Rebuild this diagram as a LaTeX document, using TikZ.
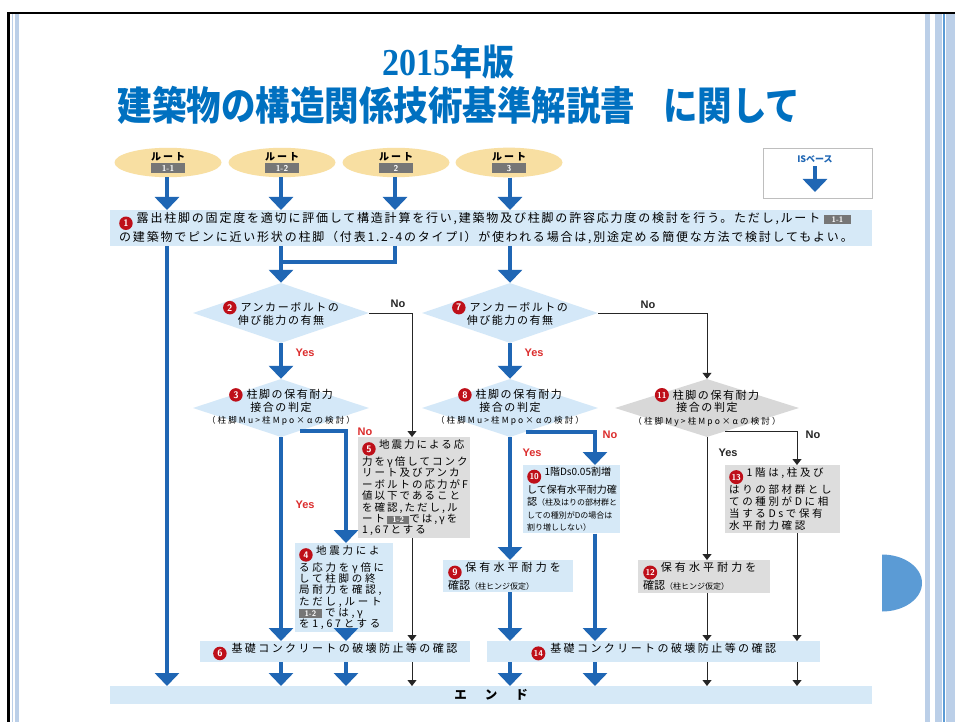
\documentclass[tikz,border=0pt]{standalone}
\usepackage{fontspec}
\usepackage{graphicx}
\usetikzlibrary{arrows.meta,shapes.geometric,calc}
\newfontfamily\jp{Noto Sans CJK JP}
\newfontfamily\labfont{Liberation Sans}
\newfontfamily\serfont{Liberation Serif}
\definecolor{fblue}{RGB}{31,102,180}
\definecolor{lbox}{RGB}{214,233,247}
\definecolor{ldia}{RGB}{212,232,248}
\definecolor{gbox}{RGB}{221,221,221}
\definecolor{gdia}{RGB}{216,216,216}
\definecolor{routey}{RGB}{248,223,162}
\definecolor{tagray}{RGB}{118,118,118}
\definecolor{redt}{RGB}{220,45,45}
\definecolor{numred}{RGB}{190,15,25}
\definecolor{titleblue}{RGB}{0,112,192}
\definecolor{dblue}{RGB}{91,155,213}
\definecolor{stripe}{RGB}{187,207,232}
\definecolor{isgray}{RGB}{190,190,190}
\newcommand\cn[1]{\tikz[baseline=-4pt]\node[circle,fill=numred,inner sep=0pt,minimum size=13.5pt,text=white,font=\sffamily\bfseries\fontsize{9.5}{9.5}\selectfont]{#1};}
\newcommand\cnn[1]{\tikz[baseline=-4pt]\node[circle,fill=numred,inner sep=0pt,minimum size=14pt,text=white,font=\sffamily\bfseries\fontsize{8.5}{8.5}\selectfont]{#1};}
\newcommand\tagbox[2][22pt]{{\setlength\fboxsep{1.2pt}\colorbox{tagray}{\makebox[#1]{\color{white}\sffamily\bfseries\fontsize{8}{8}\selectfont #2}}}}
\newcommand\rtag[1]{{\setlength\fboxsep{1.8pt}\colorbox{tagray}{\makebox[30pt]{\color{white}\sffamily\bfseries\fontsize{8.5}{8.5}\selectfont #1}}}}
\newcommand\fA{\jp\addfontfeature{LetterSpace=15}\fontsize{12}{13}\selectfont}
\newcommand\fD{\jp\addfontfeature{LetterSpace=14}\fontsize{11}{12.5}\selectfont}
\newcommand\fDs{\jp\addfontfeature{LetterSpace=25}\fontsize{8.5}{10}\selectfont}
\newcommand\fBf{\jp\addfontfeature{LetterSpace=26}\fontsize{10.5}{11.2}\selectfont}
\newcommand\fBg{\jp\addfontfeature{LetterSpace=19}\fontsize{10.5}{11.4}\selectfont}
\newcommand\fBj{\jp\fontsize{10}{12.5}\selectfont}
\newcommand\fSm{\jp\fontsize{8}{10.5}\selectfont}
\newcommand\fBm{\jp\addfontfeature{LetterSpace=25}\fontsize{10.5}{12}\selectfont}
\newcommand\fBn{\jp\addfontfeature{LetterSpace=28}\fontsize{11}{12.5}\selectfont}
\newcommand\fE{\jp\addfontfeature{LetterSpace=22}\fontsize{11}{12}\selectfont}
\newcommand\fR{\jp\bfseries\addfontfeature{LetterSpace=20}\fontsize{10}{10}\selectfont}
\begin{document}
\begin{tikzpicture}[x=1pt,y=-1pt,
  bline/.style={draw=fblue,line width=4.5pt},
  barrow/.style={bline,-{Triangle[width=24pt,length=13pt]}},
  tline/.style={draw=black!85,line width=1pt},
  tarrow/.style={tline,-{Triangle[width=9pt,length=6pt]}},
  routeell/.style={ellipse,fill=routey,minimum width=107pt,minimum height=29pt,inner sep=0pt,align=center},
  bluebox/.style={rectangle,fill=lbox,inner ysep=2pt,anchor=north west},
  graybox/.style={rectangle,fill=gbox,inner ysep=2pt,anchor=north west},
  dia/.style={diamond,fill=ldia,inner sep=0pt,minimum width=176pt,minimum height=60pt},
  dtxt/.style={inner sep=0pt,align=center},
  redlab/.style={text=redt,font=\labfont\bfseries\fontsize{11}{11}\selectfont},
  blklab/.style={text=black!85,font=\labfont\bfseries\fontsize{11}{11}\selectfont}
]
\useasboundingbox (0,0) rectangle (955,722);
\fill[white] (0,0) rectangle (955,722);
% frame
\fill[stripe] (11.5,14) rectangle (13,722);
\fill[stripe] (15,14) rectangle (18.5,722);
\fill[stripe] (925,14) rectangle (930,722);
\fill[stripe] (935,14) rectangle (942,722);
\fill[dblue] (942.5,14) rectangle (944.5,722);
\fill[stripe] (945.5,14) rectangle (955,722);
\draw[line width=2.5pt] (8.3,722) -- (8.3,13) -- (955,13);
% title
\node[text=titleblue] (t1) at (448,62) {\scalebox{1}[1.12]{{\serfont\bfseries\fontsize{34}{34}\selectfont 2015}{\jp\bfseries\fontsize{32}{32}\selectfont 年版}}};
\node[text=titleblue] (t2) at (459,105) {\scalebox{1}[1.15]{\jp\bfseries\fontsize{34.5}{34.5}\selectfont 建築物の構造関係技術基準解説書\hspace{28pt}に関して}};
% columns
\coordinate (cA) at (167,0);
\coordinate (cB) at (281,0);
\coordinate (cC) at (395,0);
\coordinate (cD) at (510,0);
\coordinate (c4) at (346,0);
\coordinate (c5) at (412,0);
\coordinate (c10) at (595,0);
\coordinate (c11) at (707,0);
\coordinate (c13) at (797,0);
% routes
\node[routeell] (r11) at (168,162.5) {{\fR ルート}\\[-1pt]\rtag{1-1}};
\node[routeell] (r12) at (282,162.5) {{\fR ルート}\\[-1pt]\rtag{1-2}};
\node[routeell] (r2) at (396,162.5) {{\fR ルート}\\[-1pt]\rtag{2}};
\node[routeell] (r3) at (509,162.5) {{\fR ルート}\\[-1pt]\rtag{3}};
% IS box
\node[rectangle,draw=isgray,line width=1pt,fill=white,anchor=north west,minimum width=109pt,minimum height=50pt] (isb) at (763,148) {};
\node[font=\jp\bfseries\fontsize{9}{9}\selectfont,text=fblue] (ist) at (815,159) {ISベース};
\coordinate (ise) at (815,192);
\draw[barrow] (ist.south) -- (ise);
% box 1
\node[bluebox,inner xsep=9pt,text width=744pt,minimum height=33pt,align=left,font=\fA] (b1) at (110,210)
 {\cn{1} 露出柱脚の固定度を適切に評価して構造計算を行い,建築物及び柱脚の許容応力度の検討を行う。ただし,ルート \tagbox[24pt]{1-1}\\の建築物でピンに近い形状の柱脚（付表1.2-4のタイプI）が使われる場合は,別途定める簡便な方法で検討してもよい。};
\draw[barrow] (r11.south -| cA) -- (b1.north -| cA);
\draw[barrow] (r12.south -| cB) -- (b1.north -| cB);
\draw[barrow] (r2.south -| cC) -- (b1.north -| cC);
\draw[barrow] (r3.south -| cD) -- (b1.north -| cD);
% diamonds
\node[dia] (d2) at (281,313) {};
\node[dtxt,font=\fD] (d2t) at (281,313) {\cn{2} アンカーボルトの\\伸び能力の有無};
\node[dia,minimum height=58pt] (d3) at (281,408) {};
\node[dtxt,font=\fD] (d3t) at (281,407) {\cn{3} 柱脚の保有耐力\\接合の判定\\{\fDs（柱脚Mu>柱Mpo×αの検討）}};
\node[dia] (d7) at (510,313) {};
\node[dtxt,font=\fD] (d7t) at (510,313) {\cn{7} アンカーボルトの\\伸び能力の有無};
\node[dia,minimum height=58pt] (d8) at (510,408) {};
\node[dtxt,font=\fD] (d8t) at (510,407) {\cn{8} 柱脚の保有耐力\\接合の判定\\{\fDs（柱脚Mu>柱Mpo×αの検討）}};
\node[dia,fill=gdia,minimum width=184pt,minimum height=58pt] (d11) at (707,408) {};
\node[dtxt,font=\fD] (d11t) at (707,407) {\cnn{11} 柱脚の保有耐力\\接合の判定\\{\fDs（柱脚My>柱Mpo×αの検討）}};
% boxes
\node[graybox,inner xsep=4pt,text width=104pt,minimum height=93pt,align=left,font=\fBg] (b5) at (358,437)
 {\cn{5} 地震力による応\\力をγ倍してコンク\\リート及びアンカ\\ーボルトの応力がF\\値以下であること\\を確認,ただし,ル\\\mbox{ート\,\tagbox[20pt]{1-2}では,γを}\\1,67とする};
\node[bluebox,inner xsep=4pt,text width=90pt,minimum height=80pt,align=left,font=\fBf] (b4) at (295,543)
 {\cn{4} 地震力によ\\る応力をγ倍に\\して柱脚の終\\局耐力を確認,\\ただし,ルート\\\mbox{\tagbox[20pt]{1-2} では,γ}\\を1,67とする};
\node[bluebox,inner xsep=4pt,text width=89pt,minimum height=60pt,align=left,font=\fBj] (b10) at (523,465)
 {\cnn{10} 1階Ds0.05割増\\して保有水平耐力確\\認{\fSm（柱及はりの部材群と}\\{\fSm しての種別がDの場合は}\\{\fSm 割り増ししない）}};
\node[bluebox,inner xsep=5pt,text width=120pt,minimum height=30pt,align=left,font=\fBn] (b9) at (443,560)
 {\cn{9} 保有水平耐力を\\{\jp\fontsize{11}{12}\selectfont 確認}{\fSm（柱ヒンジ仮定）}};
\node[graybox,inner xsep=5pt,text width=122pt,minimum height=30pt,align=left,font=\fBn] (b12) at (638,560)
 {\cnn{12} 保有水平耐力を\\{\jp\fontsize{11}{12}\selectfont 確認}{\fSm（柱ヒンジ仮定）}};
\node[graybox,inner xsep=4pt,text width=107pt,minimum height=65pt,align=left,font=\fBm] (b13) at (725,465)
 {\cnn{13} 1階は,柱及び\\はりの部材群とし\\ての種別がDに相\\当するDsで保有\\水平耐力確認};
\node[bluebox,inner sep=0pt,minimum width=270pt,minimum height=21pt,font=\fE] (b6) at (200,641) {\cn{6} 基礎コンクリートの破壊防止等の確認};
\node[bluebox,inner sep=0pt,minimum width=333pt,minimum height=21pt,font=\fE] (b14) at (487,641) {\cnn{14} 基礎コンクリートの破壊防止等の確認};
\node[bluebox,inner sep=0pt,minimum width=762pt,minimum height=18pt,font=\jp\bfseries\fontsize{12.5}{12.5}\selectfont] (end) at (110,686) {エ\hspace{18pt}ン\hspace{18pt}ド};
% connectors left
\coordinate (j2) at (281,262);
\coordinate (j3) at (395,262);
\draw[barrow] (b1.south -| cA) -- (end.north -| cA);
\draw[bline] (b1.south -| j3) -- (j3) -- (j2);
\draw[barrow] (b1.south -| j2) -- (d2.north);
\draw[barrow] (b1.south -| cD) -- (d7.north);
\draw[barrow] (d2.south) -- (d3.north);
\node[redlab] (y2) at (305,353) {Yes};
\draw[tarrow] (d2.east) -- (d2.east -| c5) -- (b5.north -| c5);
\node[blklab] (n2) at (398,304) {No};
\coordinate (d3n) at ($(d3.south)!0.22!(d3.east)$);
\draw[barrow] (d3n) -- (d3n -| c4) -- (b4.north -| c4);
\node[redlab] (n3) at (365,432) {No};
\draw[barrow] (d3.south) -- (b6.north -| d3.south);
\node[redlab] (y3) at (305,505) {Yes};
\draw[barrow] (b4.south -| c4) -- (b6.north -| c4);
\draw[tarrow] (b5.south -| c5) -- (b6.north -| c5);
\draw[barrow] (b6.south -| cB) -- (end.north -| cB);
\draw[barrow] (b6.south -| c4) -- (end.north -| c4);
\draw[tarrow] (b6.south -| c5) -- (end.north -| c5);
% connectors right
\draw[tarrow] (d7.east) -- (d7.east -| c11) -- (d11.north);
\node[blklab] (n7) at (648,305) {No};
\draw[barrow] (d7.south) -- (d8.north);
\node[redlab] (y7) at (534,353) {Yes};
\coordinate (d8n) at ($(d8.south)!0.18!(d8.east)$);
\draw[barrow] (d8n) -- (d8n -| c10) -- (b10.north -| c10);
\node[redlab] (n8) at (610,435) {No};
\draw[barrow] (d8.south) -- (b9.north -| d8.south);
\node[redlab] (y8) at (532,453) {Yes};
\draw[barrow] (b9.south -| cD) -- (b14.north -| cD);
\draw[barrow] (b10.south -| c10) -- (b14.north -| c10);
\draw[tarrow] (d11.south) -- (b12.north -| d11.south);
\node[blklab] (y11) at (728,453) {Yes};
\coordinate (d11n) at ($(d11.south)!0.2!(d11.east)$);
\draw[tarrow] (d11n) -- (d11n -| c13) -- (b13.north -| c13);
\node[blklab] (n11) at (813,435) {No};
\draw[tarrow] (b12.south -| c11) -- (b14.north -| c11);
\draw[tarrow] (b13.south -| c13) -- (b14.north -| c13);
\draw[barrow] (b14.south -| cD) -- (end.north -| cD);
\draw[barrow] (b14.south -| c10) -- (end.north -| c10);
\draw[tarrow] (b14.south -| c11) -- (end.north -| c11);
\draw[tarrow] (b14.south -| c13) -- (end.north -| c13);
% D shape
\fill[dblue] (882,611.5) arc[start angle=90,end angle=-90,x radius=40,y radius=28.5] -- cycle;
\end{tikzpicture}
\end{document}
